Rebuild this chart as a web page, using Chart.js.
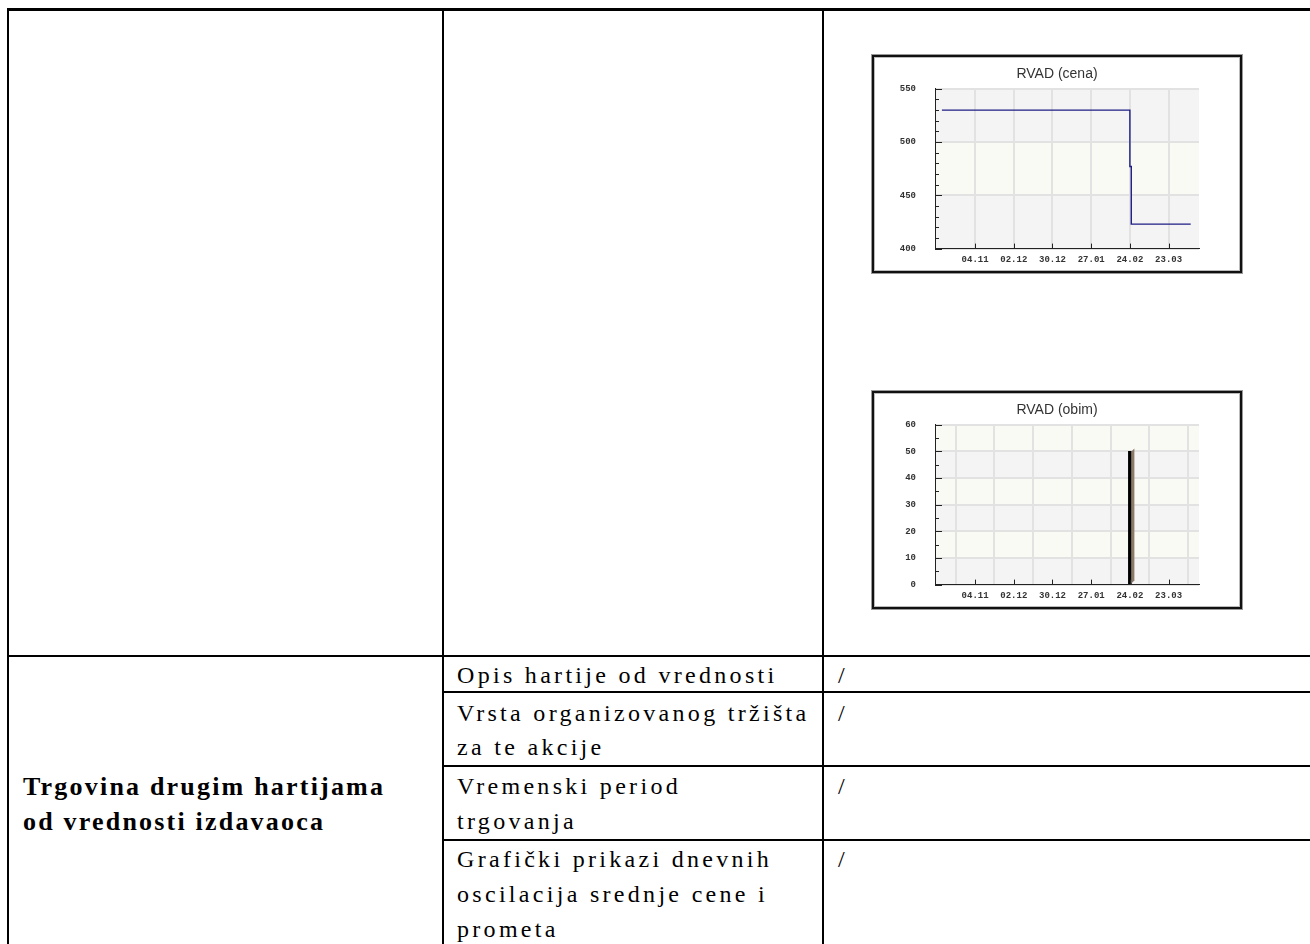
<!DOCTYPE html>
<html><head><meta charset="utf-8">
<script src="https://cdn.jsdelivr.net/npm/chart.js@4.4.1/dist/chart.umd.min.js"></script>
<style>
html,body{margin:0;padding:0;background:#fff;width:1310px;height:944px;overflow:hidden;position:relative}
.ln{position:absolute;background:#000}
.t{position:absolute;font-family:"Liberation Serif","Times New Roman",serif;font-size:24px;line-height:35px;white-space:nowrap;color:#000;letter-spacing:3.3px}
.b{font-weight:bold;font-size:26px;letter-spacing:2.2px}
.wrap{position:absolute;width:370px;height:218px}
.frame{position:absolute;border:2px solid #111;box-shadow:0 0 0 1px #999, inset 0 0 0 1px #bbb;box-sizing:border-box;pointer-events:none}
</style></head>
<body>
<div class="ln" style="left:7px;top:8px;width:1303px;height:3px"></div>
<div class="ln" style="left:7px;top:8px;width:2px;height:936px"></div>
<div class="ln" style="left:442px;top:8px;width:2px;height:936px"></div>
<div class="ln" style="left:822px;top:8px;width:2px;height:936px"></div>
<div class="ln" style="left:7px;top:655px;width:1303px;height:2px"></div>
<div class="ln" style="left:442px;top:691px;width:868px;height:2px"></div>
<div class="ln" style="left:442px;top:765px;width:868px;height:2px"></div>
<div class="ln" style="left:442px;top:839px;width:868px;height:2px"></div>

<div class="t b" style="left:23px;top:769px">Trgovina drugim hartijama</div>
<div class="t b" style="left:23px;top:804px">od vrednosti izdavaoca</div>

<div class="t" style="left:457px;top:658px">Opis hartije od vrednosti</div>
<div class="t" style="left:457px;top:696px">Vrsta organizovanog tržišta</div>
<div class="t" style="left:457px;top:730px">za te akcije</div>
<div class="t" style="left:457px;top:769px">Vremenski period</div>
<div class="t" style="left:457px;top:804px">trgovanja</div>
<div class="t" style="left:457px;top:842px">Grafički prikazi dnevnih</div>
<div class="t" style="left:457px;top:877px">oscilacija srednje cene i</div>
<div class="t" style="left:457px;top:912px">prometa</div>

<div class="t" style="left:838px;top:658px">/</div>
<div class="t" style="left:838px;top:696px">/</div>
<div class="t" style="left:838px;top:769px">/</div>
<div class="t" style="left:838px;top:842px">/</div>

<div class="wrap" style="left:872px;top:55px"><canvas id="c1" width="370" height="218"></canvas></div>
<div class="frame" style="left:872px;top:55px;width:370px;height:218px"></div>
<div class="wrap" style="left:872px;top:391px"><canvas id="c2" width="370" height="218"></canvas></div>
<div class="frame" style="left:872px;top:391px;width:370px;height:218px"></div>

<script>
// ---- data ----
const originDate = '2007-11-04';
const tickDates = ['2007-11-04','2007-12-02','2007-12-30','2008-01-27','2008-02-24','2008-03-23'];
const tickLabels = ['04.11','02.12','30.12','27.01','24.02','23.03'];
const axisStartDate = '2007-10-06';
const axisEndDate = '2008-04-14';

const priceDates = ['2007-10-11','2008-02-24','2008-02-25','2008-04-08'];
const priceValues = [530, 477, 423, 423];

const volumeDates = ['2008-02-24'];
const volumeValues = [50];

const priceTicks = [400, 450, 500, 550];
const volumeTicks = [0, 10, 20, 30, 40, 50, 60];

// ---- helpers ----
const DAY = 86400000;
const toDay = d => Math.round((Date.parse(d) - Date.parse(originDate)) / DAY);
const tickDays = tickDates.map(toDay);

const bandsPlugin = {
  id: 'bands',
  beforeDraw(chart, args, opts) {
    const {ctx, chartArea: a, scales: {y}} = chart;
    const t = opts.ticks;
    ctx.save();
    for (let i = 0; i < t.length - 1; i++) {
      const y0 = y.getPixelForValue(t[i]), y1 = y.getPixelForValue(t[i + 1]);
      ctx.fillStyle = i % 2 === 0 ? '#f4f4f4' : '#fafaf4';
      ctx.fillRect(a.left, y1, a.right - a.left, y0 - y1);
    }
    ctx.restore();
  }
};

const innerTicksPlugin = {
  id: 'innerTicks',
  afterDatasetsDraw(chart, args, opts) {
    const {ctx, chartArea: a, scales: {x, y}} = chart;
    ctx.save();
    ctx.strokeStyle = '#222';
    ctx.lineWidth = 1;
    ctx.beginPath();
    const t = opts.ticks;
    const lo = t[0], hi = t[t.length - 1];
    for (let v = lo; v <= hi + 1e-9; v += opts.minor) {
      const major = t.some(m => Math.abs(m - v) < 1e-9);
      const py = Math.round(y.getPixelForValue(v)) + 0.5;
      ctx.moveTo(a.left, py);
      ctx.lineTo(a.left + (major ? 7 : 4), py);
    }
    tickDays.forEach(d => {
      const px = Math.round(x.getPixelForValue(d)) + 0.5;
      ctx.moveTo(px, a.bottom);
      ctx.lineTo(px, a.bottom - 5);
    });
    ctx.stroke();
    ctx.restore();
  }
};

const sidePlugin = {
  id: 'side3d',
  afterDatasetsDraw(chart) {
    const {ctx} = chart;
    chart.getDatasetMeta(0).data.forEach(el => {
      const r = el.x + el.width / 2;
      ctx.save();
      ctx.fillStyle = '#8b7a66';
      ctx.beginPath();
      ctx.moveTo(r, el.y);
      ctx.lineTo(r + 3, el.y - 3);
      ctx.lineTo(r + 3, el.base - 3);
      ctx.lineTo(r, el.base);
      ctx.closePath();
      ctx.fill();
      ctx.restore();
    });
  }
};

const monoFont = {family: '"Liberation Mono", "DejaVu Sans Mono", monospace', size: 9, weight: 'bold'};

function makeOptions(title, ticks, minor) {
  return {
    responsive: false,
    animation: false,
    events: [],
    layout: {padding: 0},
    plugins: {
      legend: {display: false},
      tooltip: {enabled: false},
      title: {display: true, text: title, color: '#333',
        font: {family: '"Liberation Sans", Arial, sans-serif', size: 14, weight: 'normal'},
        padding: {top: 11, bottom: 6}},
      bands: {ticks: ticks},
      innerTicks: {ticks: ticks, minor: minor}
    },
    scales: {
      x: {
        type: 'linear', offset: false,
        min: toDay(axisStartDate), max: toDay(axisEndDate),
        afterBuildTicks: s => { s.ticks = tickDays.map(v => ({value: v})); },
        afterFit: s => { s.height = 24; },
        grid: {color: '#e2e2e2', lineWidth: 2, drawTicks: false},
        border: {display: true, color: '#222', width: 1},
        ticks: {autoSkip: false, maxRotation: 0, padding: 6, color: '#333', font: monoFont,
          callback: (v, i) => tickLabels[i]}
      },
      y: {
        min: ticks[0], max: ticks[ticks.length - 1],
        afterBuildTicks: s => { s.ticks = ticks.map(v => ({value: v})); },
        afterFit: s => { s.width = 63; },
        grid: {color: '#e2e2e2', lineWidth: 2, drawTicks: false},
        border: {display: true, color: '#222', width: 1},
        ticks: {padding: 19, color: '#333', font: monoFont}
      },
      yR: {
        position: 'right', display: true,
        grid: {display: false, drawTicks: false}, border: {display: false},
        ticks: {display: false},
        afterFit: s => { s.width = 43; }
      }
    }
  };
}

new Chart(document.getElementById('c1'), {
  type: 'line',
  data: {datasets: [{
    data: priceDates.map((d, i) => ({x: toDay(d), y: priceValues[i]})),
    borderColor: '#1c1c84', borderWidth: 1.4, stepped: true,
    pointRadius: 0, fill: false
  }]},
  options: makeOptions('RVAD (cena)', priceTicks, 10),
  plugins: [bandsPlugin, innerTicksPlugin]
});

new Chart(document.getElementById('c2'), {
  type: 'bar',
  data: {datasets: [{
    data: volumeDates.map((d, i) => ({x: toDay(d), y: volumeValues[i]})),
    backgroundColor: '#000', barThickness: 3, grouped: false
  }]},
  options: makeOptions('RVAD (obim)', volumeTicks, 5),
  plugins: [bandsPlugin, sidePlugin, innerTicksPlugin]
});
</script>
</body></html>
